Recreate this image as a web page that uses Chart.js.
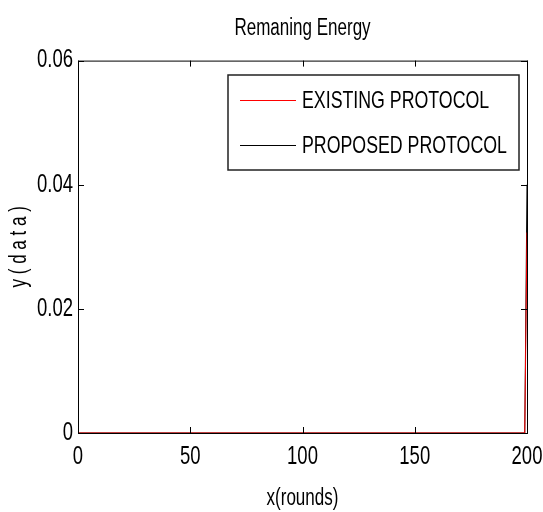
<!DOCTYPE html>
<html>
<head>
<meta charset="utf-8">
<script src="https://cdn.jsdelivr.net/npm/chart.js@4.4.0/dist/chart.umd.min.js"></script>
<style>
  html, body { margin: 0; padding: 0; background: #fff; }
  #wrap { width: 543px; height: 512px; }
</style>
</head>
<body>
<div id="wrap"><canvas id="chart"></canvas></div>
<script>
// data
const rounds = [0, 199, 200];
const existingEnergy = [0, 0, 0.0323];
const proposedEnergy = [0, 0, 0.0400];
const xTicks = [0, 50, 100, 150, 200];
const yTicks = [0, 0.02, 0.04, 0.06];

const FONT = "'Liberation Sans', Arial, sans-serif";
const SQUEEZE = 0.74; // matlab text looks condensed

function toPoints(xs, ys) {
  return xs.map((x, i) => ({ x: x, y: ys[i] }));
}

// condense all text drawn on the canvas (no narrow font installed)
const canvas = document.getElementById('chart');
const c2d = canvas.getContext('2d');
const origFill = c2d.fillText.bind(c2d);
const origMeasure = c2d.measureText.bind(c2d);
c2d.fillText = function (text, x, y, maxW) {
  this.save();
  this.translate(x, y);
  this.scale(SQUEEZE, 1);
  if (maxW !== undefined) origFill(text, 0, 0, maxW / SQUEEZE);
  else origFill(text, 0, 0);
  this.restore();
};
c2d.measureText = function (text) {
  const m = origMeasure(text);
  return {
    width: m.width * SQUEEZE,
    actualBoundingBoxLeft: m.actualBoundingBoxLeft * SQUEEZE,
    actualBoundingBoxRight: m.actualBoundingBoxRight * SQUEEZE,
    actualBoundingBoxAscent: m.actualBoundingBoxAscent,
    actualBoundingBoxDescent: m.actualBoundingBoxDescent
  };
};

// box with inward ticks on all four sides
const boxPlugin = {
  id: 'box',
  afterDraw(chart) {
    const { ctx, chartArea: a, scales } = chart;
    ctx.save();
    ctx.strokeStyle = '#000';
    ctx.lineWidth = 1;
    ctx.strokeRect(a.left + 0.5, a.top + 0.5, a.right - a.left, a.bottom - a.top);
    const len = 6;
    ctx.beginPath();
    xTicks.forEach(v => {
      const px = Math.round(scales.x.getPixelForValue(v)) + 0.5;
      ctx.moveTo(px, a.bottom); ctx.lineTo(px, a.bottom - len);
      ctx.moveTo(px, a.top); ctx.lineTo(px, a.top + len);
    });
    yTicks.forEach(v => {
      const py = Math.round(scales.y.getPixelForValue(v)) + 0.5;
      ctx.moveTo(a.left, py); ctx.lineTo(a.left + len, py);
      ctx.moveTo(a.right, py); ctx.lineTo(a.right - len, py);
    });
    ctx.stroke();
    ctx.restore();
  }
};

// legend drawn inside the plot, top right
const legendPlugin = {
  id: 'innerLegend',
  afterDraw(chart) {
    const ctx = chart.ctx;
    const x0 = 228, y0 = 75, w = 291, h = 95;
    ctx.save();
    ctx.fillStyle = '#fff';
    ctx.fillRect(x0, y0, w, h);
    ctx.strokeStyle = '#222';
    ctx.lineWidth = 1.5;
    ctx.strokeRect(x0, y0, w, h);
    ctx.font = '24px ' + FONT;
    ctx.textBaseline = 'middle';
    chart.data.datasets.forEach((ds, i) => {
      const cy = y0 + 25 + i * 45;
      ctx.strokeStyle = ds.borderColor;
      ctx.lineWidth = 1;
      ctx.beginPath();
      ctx.moveTo(x0 + 12, cy + 0.5);
      ctx.lineTo(x0 + 68, cy + 0.5);
      ctx.stroke();
      ctx.fillStyle = '#000';
      ctx.fillText(ds.label, x0 + 74, cy + 1);
    });
    ctx.restore();
  }
};

new Chart(canvas, {
  type: 'line',
  data: {
    datasets: [
      { label: 'EXISTING PROTOCOL', data: toPoints(rounds, existingEnergy),
        borderColor: '#ff0000', borderWidth: 1, pointRadius: 0, tension: 0 },
      { label: 'PROPOSED PROTOCOL', data: toPoints(rounds, proposedEnergy),
        borderColor: '#000000', borderWidth: 1, pointRadius: 0, tension: 0 }
    ]
  },
  options: {
    responsive: true,
    maintainAspectRatio: false,
    animation: false,
    layout: { padding: { left: 0, right: 16, top: 0, bottom: 0 } },
    plugins: {
      legend: { display: false },
      tooltip: { enabled: false },
      title: {
        display: true,
        fullSize: false,
        text: 'Remaning Energy',
        color: '#000',
        font: { family: FONT, size: 23, weight: 'normal' },
        padding: { top: 15, bottom: 18 }
      }
    },
    scales: {
      x: {
        type: 'linear',
        min: 0, max: 200,
        afterBuildTicks(scale) { scale.ticks = xTicks.map(v => ({ value: v })); },
        afterFit(scale) { scale.height = 79; scale.paddingLeft = 0; scale.paddingRight = 0; },
        grid: { display: false, drawTicks: false },
        border: { display: false },
        ticks: { color: '#000', padding: 9, font: { family: FONT, size: 25 } },
        title: { display: true, text: 'x(rounds)', color: '#000',
          font: { family: FONT, size: 23 }, padding: { top: 4, bottom: 0 } }
      },
      y: {
        type: 'linear',
        min: 0, max: 0.06,
        afterBuildTicks(scale) { scale.ticks = yTicks.map(v => ({ value: v })); },
        afterFit(scale) { scale.width = 78; scale.paddingTop = 0; scale.paddingBottom = 0; },
        grid: { display: false, drawTicks: false },
        border: { display: false },
        ticks: { color: '#000', padding: 5, font: { family: FONT, size: 25 },
          callback: v => (v === 0 ? '0' : v.toFixed(2)) },
        title: { display: true, text: 'y ( d a t a )', color: '#000',
          font: { family: FONT, size: 23 }, padding: { top: 6, bottom: 0 } }
      }
    }
  },
  plugins: [boxPlugin, legendPlugin]
});
</script>
</body>
</html>
